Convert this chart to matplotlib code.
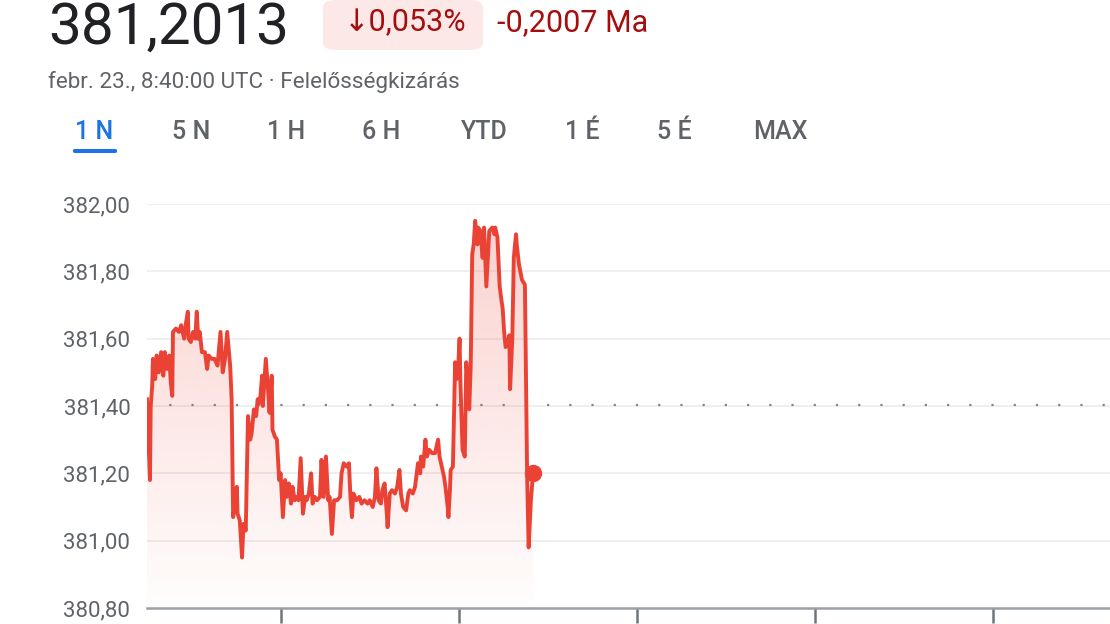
import matplotlib.pyplot as plt
import numpy as np
from matplotlib.patches import FancyBboxPatch

plt.rcParams['font.family'] = ['Roboto', 'DejaVu Sans']

# percek éjféltől (UTC) és árfolyam
minutes = [0, 1, 4, 5, 7, 8, 11, 13, 16, 19, 22, 24, 27, 30, 32, 34, 35, 39, 43, 46,
           50, 52, 55, 56, 59, 62, 65, 67, 69, 71, 74, 78, 81, 83, 87, 91, 95, 99, 102, 105,
           108, 112, 114, 116, 118, 121, 122, 125, 128, 130, 133, 136, 139, 141, 144, 147, 149, 152, 155, 156,
           160, 163, 165, 168, 169, 172, 175, 178, 180, 183, 186, 188, 191, 194, 196, 199, 202, 204, 207, 210,
           213, 215, 218, 221, 223, 226, 229, 233, 235, 238, 241, 244, 246, 249, 252, 256, 260, 262, 265, 269,
           272, 274, 276, 278, 282, 286, 289, 293, 297, 300, 304, 307, 309, 312, 315, 317, 320, 323, 324, 327,
           330, 334, 337, 340, 342, 345, 349, 352, 354, 358, 361, 365, 368, 369, 372, 375, 377, 380, 384, 388,
           392, 394, 397, 400, 402, 405, 406, 408, 409, 412, 415, 417, 419, 421, 422, 425, 428, 430, 433, 434,
           436, 438, 440, 442, 445, 446, 449, 452, 454, 457, 460, 461, 465, 468, 469, 472, 475, 477, 479, 481,
           483, 485, 488, 489, 492, 494, 497, 498, 501, 505, 509, 512, 514, 517, 520]
prices = [381.42, 381.36, 381.18, 381.40, 381.46, 381.54, 381.48, 381.55, 381.50, 381.56,
          381.49, 381.56, 381.51, 381.55, 381.47, 381.43, 381.62, 381.63, 381.62, 381.64,
          381.60, 381.64, 381.68, 381.60, 381.59, 381.62, 381.60, 381.68, 381.60, 381.62,
          381.56, 381.56, 381.51, 381.55, 381.54, 381.54, 381.52, 381.62, 381.50, 381.54,
          381.62, 381.52, 381.42, 381.07, 381.10, 381.16, 381.08, 381.06, 380.95, 381.05,
          381.03, 381.37, 381.30, 381.32, 381.39, 381.37, 381.42, 381.41, 381.49, 381.40,
          381.54, 381.45, 381.38, 381.49, 381.33, 381.31, 381.30, 381.18, 381.20, 381.07,
          381.18, 381.13, 381.17, 381.11, 381.16, 381.12, 381.13, 381.12, 381.245, 381.08,
          381.13, 381.12, 381.14, 381.20, 381.11, 381.13, 381.12, 381.13, 381.24, 381.13,
          381.25, 381.12, 381.13, 381.02, 381.12, 381.12, 381.13, 381.20, 381.23, 381.22,
          381.23, 381.13, 381.07, 381.14, 381.12, 381.13, 381.11, 381.12, 381.11, 381.12,
          381.10, 381.13, 381.215, 381.12, 381.11, 381.15, 381.17, 381.08, 381.04, 381.14,
          381.15, 381.14, 381.16, 381.21, 381.14, 381.10, 381.09, 381.14, 381.15, 381.14,
          381.16, 381.23, 381.20, 381.25, 381.22, 381.30, 381.25, 381.27, 381.26, 381.26,
          381.30, 381.25, 381.22, 381.19, 381.16, 381.10, 381.07, 381.15, 381.21, 381.22,
          381.53, 381.48, 381.51, 381.60, 381.48, 381.27, 381.25, 381.53, 381.45, 381.39,
          381.52, 381.85, 381.88, 381.95, 381.88, 381.93, 381.92, 381.84, 381.93, 381.755,
          381.88, 381.92, 381.93, 381.91, 381.93, 381.90, 381.755, 381.72, 381.69, 381.62,
          381.575, 381.58, 381.61, 381.45, 381.60, 381.84, 381.91, 381.88, 381.82, 381.775,
          381.76, 381.19, 380.98, 381.12, 381.2013]
prev_close = 381.402

y_ticks = [380.8, 381.0, 381.2, 381.4, 381.6, 381.8, 382.0]
y_labels = ['380,80', '381,00', '381,20', '381,40', '381,60', '381,80', '382,00']
x_ticks = [180, 420, 660, 900, 1140]

tabs = ['1 N', '5 N', '1 H', '6 H', 'YTD', '1 É', '5 É', 'MAX']
tab_x = [94, 191, 286, 381, 484, 582, 674, 780]

W, H = 1110, 624
RED = '#ea4335'
GREY = '#5f6368'

fig = plt.figure(figsize=(W / 100, H / 100), dpi=100)


def px(x, y):
    return x / W, 1 - y / H


# fejléc
fig.text(*px(48, 28), '381,2013', fontsize=42, color='#202124', va='center', ha='left')
badge = FancyBboxPatch(px(323, 50), 160 / W, 50 / H, transform=fig.transFigure,
                       boxstyle='round,pad=0,rounding_size=0.012', fc='#fce8e6', ec='none')
fig.patches.append(badge)
fig.text(*px(405, 23), '↓0,053%', fontsize=22, color='#a50e0e', va='center', ha='center')
fig.text(*px(497, 23), '-0,2007 Ma', fontsize=22, color='#a50e0e', va='center', ha='left')
fig.text(*px(48, 82), 'febr. 23., 8:40:00 UTC · Felelősségkizárás', fontsize=16.2,
         color=GREY, va='center', ha='left')

for lab, x in zip(tabs, tab_x):
    active = lab == '1 N'
    fig.text(*px(x, 132), lab, fontsize=18, color='#1a73e8' if active else GREY,
             va='center', ha='center', fontweight='medium')
bar = FancyBboxPatch(px(73, 153), 44 / W, 4 / H, transform=fig.transFigure,
                     boxstyle='round,pad=0,rounding_size=0.002', fc='#1a73e8', ec='none')
fig.patches.append(bar)

# grafikon
ax = fig.add_axes([147 / W, 16 / H, 1 - 147 / W, (608 - 204) / H])
ax.set_xlim(0, 1297)
ax.set_ylim(380.8, 382.0)

for v in y_ticks[1:]:
    ax.axhline(v, color='#ececec', lw=1.2, zorder=0)
ax.axhline(prev_close, color='#80868b', lw=1.6, linestyle=(0, (1, 9)), zorder=1)

x = np.array(minutes)
y = np.array(prices)
poly = ax.fill_between(x, y, 380.8, color='none', lw=0)
grad = np.zeros((256, 1, 4))
grad[:, 0, 0] = 234 / 255
grad[:, 0, 1] = 67 / 255
grad[:, 0, 2] = 53 / 255
grad[:, 0, 3] = np.linspace(0.24, 0.01, 256)
img = ax.imshow(grad, extent=[0, x.max(), 380.8, y.max()], aspect='auto', origin='upper', zorder=2)
img.set_clip_path(poly.get_paths()[0], transform=ax.transData)

ax.plot(x, y, color=RED, lw=2.8, zorder=3, solid_joinstyle='round')
ax.plot(x[-1], y[-1], 'o', color=RED, markersize=11.5, zorder=4)

ax.set_yticks(y_ticks)
ax.set_yticklabels(y_labels)
ax.set_xticks(x_ticks)
ax.set_xticklabels([])
ax.tick_params(axis='y', length=0, pad=12, labelsize=16, labelcolor=GREY)
ax.tick_params(axis='x', length=11, width=1.8, color='#70757a', direction='out')
for s in ['top', 'right', 'left']:
    ax.spines[s].set_visible(False)
ax.spines['bottom'].set_color('#9aa0a6')
ax.spines['bottom'].set_linewidth(1.8)
ax.set_facecolor('none')

fig.savefig('out.png', dpi=100)
